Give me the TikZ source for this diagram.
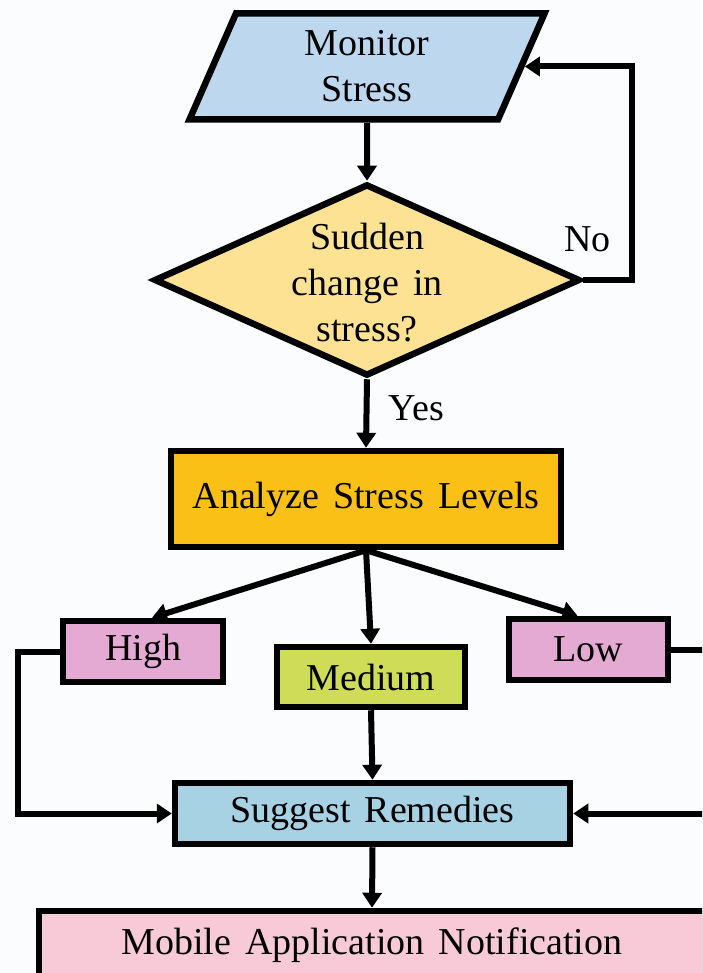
\documentclass[tikz,border=0pt]{standalone}
\usepackage{fontspec}
\setmainfont{Liberation Serif}
\usetikzlibrary{arrows.meta,shapes.geometric,calc}

\definecolor{bgcol}{HTML}{FBFCFE}
\definecolor{monfill}{HTML}{BDD7EE}
\definecolor{decfill}{HTML}{FDE294}
\definecolor{anafill}{HTML}{FBC015}
\definecolor{levfill}{HTML}{E4AAD4}
\definecolor{medfill}{HTML}{CFDC57}
\definecolor{sugfill}{HTML}{A6D2E4}
\definecolor{mobfill}{HTML}{F8CAD8}

\newcommand\diagfont{\fontsize{38}{46}\selectfont\spaceskip=0.37em\relax}

\begin{document}
\begin{tikzpicture}[x=1pt,y=-1pt,
  every node/.style={font=\diagfont},
  box/.style={draw=black, line width=6.5pt, inner sep=0pt, align=center},
  conn/.style={line width=6pt, -{Triangle[length=15pt,width=19pt]}},
  wire/.style={line width=6pt}]
\useasboundingbox (0,0) rectangle (702,973);
\fill[bgcol] (0,0) rectangle (702,973);
\clip (0,0) rectangle (702,973);

% input step
\node[box, trapezium, trapezium left angle=57, trapezium right angle=123,
      trapezium stretches body=true, fill=monfill,
      minimum width=355pt, minimum height=106pt] (mon) at (367,66.5) {Monitor\\Stress};

% decision
\node[box, diamond, fill=decfill, minimum width=426pt, minimum height=192pt] (dec) at (367,280) {};
\node[align=center] (dect) at (367,283) {Sudden\\change in\\stress?};

% processing steps
\node[box, fill=anafill, minimum width=390pt, minimum height=96pt] (ana) at (366,499) {Analyze Stress Levels};
\node[box, fill=levfill, minimum width=160pt, minimum height=61pt] (high) at (143,651.5) {High};
\node[box, fill=medfill, minimum width=188pt, minimum height=60pt] (med) at (371,677) {Medium};
\node[box, fill=levfill, minimum width=159pt, minimum height=61pt] (low) at (588.5,649.5) {Low};
\node[box, fill=sugfill, minimum width=395pt, minimum height=61pt] (sug) at (372.5,813.5) {Suggest Remedies};
\node[box, fill=mobfill, minimum width=666pt, minimum height=68pt] (mob) at (372,945) {Mobile Application Notification};

% connectors
\draw[conn] (mon.south) -- (dec.north);
\draw[conn] (dec.east) -- ++(49,0) |- (mon.east);
\node[anchor=base west] (no) at (561,252) {No};
\draw[conn] (dec.south) -- (ana.north);
\node[anchor=base west] (yes) at (385,420) {Yes};

\draw[conn] (ana.south) -- ([xshift=9pt]high.north);
\draw[conn] (ana.south) -- (med.north);
\draw[conn] (ana.south) -- ([xshift=-11pt]low.north);

\draw[conn] (high.west) -- ++(-42,0) |- (sug.west);
\draw[conn] (low.east) -- ++(64,0) |- (sug.east);
\draw[conn] (med.south) -- (sug.north);
\draw[conn] (sug.south) -- (mob.north);
\end{tikzpicture}
\end{document}
